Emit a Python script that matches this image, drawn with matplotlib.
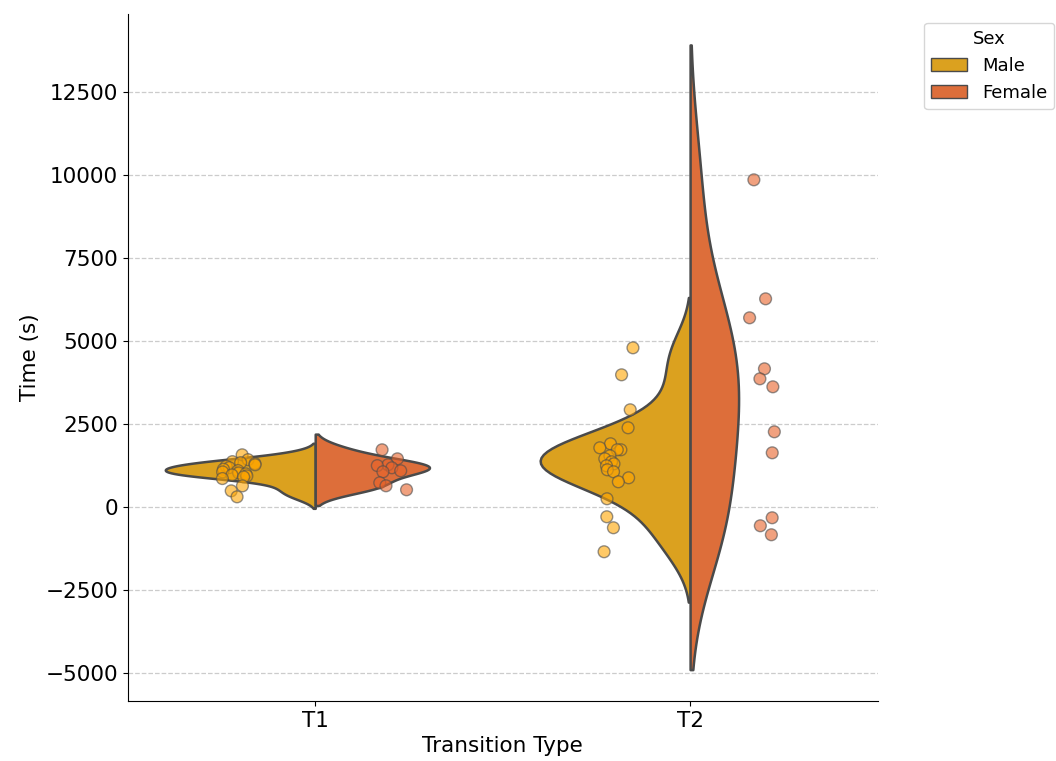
import numpy as np
import pandas as pd
import matplotlib
matplotlib.use("Agg")
import matplotlib.pyplot as plt
from matplotlib.patches import Patch
import seaborn as sns

# values (seconds)
categories = ["T1", "T2"]
sexes = ["Male", "Female"]
t1_male = [1566, 1420, 1360, 1330, 1300, 1265, 1220, 1180, 1130, 1090,
           1050, 1020, 990, 960, 930, 900, 850, 630, 480, 300]
t1_female = [1717, 1445, 1265, 1240, 1175, 1084, 1054, 723, 632, 512]
t2_male = [4789, 3976, 2922, 2380, 1898, 1777, 1717, 1717, 1536, 1446, 1355,
           1295, 1235, 1114, 1054, 873, 753, 241, -301, -632, -1355]
t2_female = [9850, 6265, 5693, 4157, 3855, 3614, 2259, 1626, -331, -572, -843]

violin_colors = {"Male": "#DBA11F", "Female": "#DD6E3A"}
point_colors = {"Male": "#FFA500", "Female": "#E8632A"}
edge_gray = "#4a4a4a"

groups = {("T1", "Male"): t1_male, ("T1", "Female"): t1_female,
          ("T2", "Male"): t2_male, ("T2", "Female"): t2_female}

rows = []
for (cat, sex), vals in groups.items():
    for v in vals:
        rows.append({"Transition Type": cat, "Sex": sex, "Time (s)": v})
df = pd.DataFrame(rows)


def kde_curve(vals, cut=2, gridsize=100):
    vals = np.asarray(vals, dtype=float)
    bw = vals.std(ddof=1) * len(vals) ** (-1 / 5)
    grid = np.linspace(vals.min() - cut * bw, vals.max() + cut * bw, gridsize)
    dens = np.exp(-0.5 * ((grid[:, None] - vals[None, :]) / bw) ** 2).sum(axis=1)
    dens /= len(vals) * bw * np.sqrt(2 * np.pi)
    return grid, dens


fig = plt.figure(figsize=(10.56, 7.61), dpi=100)
ax = fig.add_axes([0.121, 0.079, 0.71, 0.903])

half = 0.4
lo, hi = 0, 0
for i, cat in enumerate(categories):
    curves = {sex: kde_curve(groups[(cat, sex)]) for sex in sexes}
    # area scaling within each category (widest half gets full width)
    top = max(d.max() for _, d in curves.values())
    grid, dens = curves["Male"]
    ax.fill_betweenx(grid, i - dens / top * half, i, facecolor=violin_colors["Male"],
                     edgecolor=edge_gray, linewidth=1.8, zorder=2)
    lo, hi = min(lo, grid.min()), max(hi, grid.max())
    grid, dens = curves["Female"]
    ax.fill_betweenx(grid, i, i + dens / top * half, facecolor=violin_colors["Female"],
                     edgecolor=edge_gray, linewidth=1.8, zorder=2)
    lo, hi = min(lo, grid.min()), max(hi, grid.max())

np.random.seed(3)
sns.stripplot(data=df, x="Transition Type", y="Time (s)", hue="Sex", order=categories,
              hue_order=sexes, palette=point_colors, dodge=True, jitter=True, size=8.5,
              alpha=0.6, edgecolor="gray", linewidth=1, legend=False, ax=ax, zorder=3)

pad = 0.05 * (hi - lo)
ax.set_xlim(-0.5, 1.5)
ax.set_ylim(lo - pad, hi + pad)
ax.set_yticks(np.arange(-5000, 12501, 2500))
ax.yaxis.grid(True, linestyle="--", color="#cccccc", linewidth=0.9)
ax.set_axisbelow(True)
ax.spines["top"].set_visible(False)
ax.spines["right"].set_visible(False)
ax.tick_params(labelsize=15.5)
ax.set_xlabel("Transition Type", fontsize=15.5)
ax.set_ylabel("Time (s)", fontsize=15.5)

handles = [Patch(facecolor=violin_colors[s], edgecolor=edge_gray, label=s) for s in sexes]
ax.legend(handles=handles, title="Sex", loc="upper left", bbox_to_anchor=(1.05, 1),
          fontsize=13, title_fontsize=13)

fig.savefig("out.png", dpi=100)
